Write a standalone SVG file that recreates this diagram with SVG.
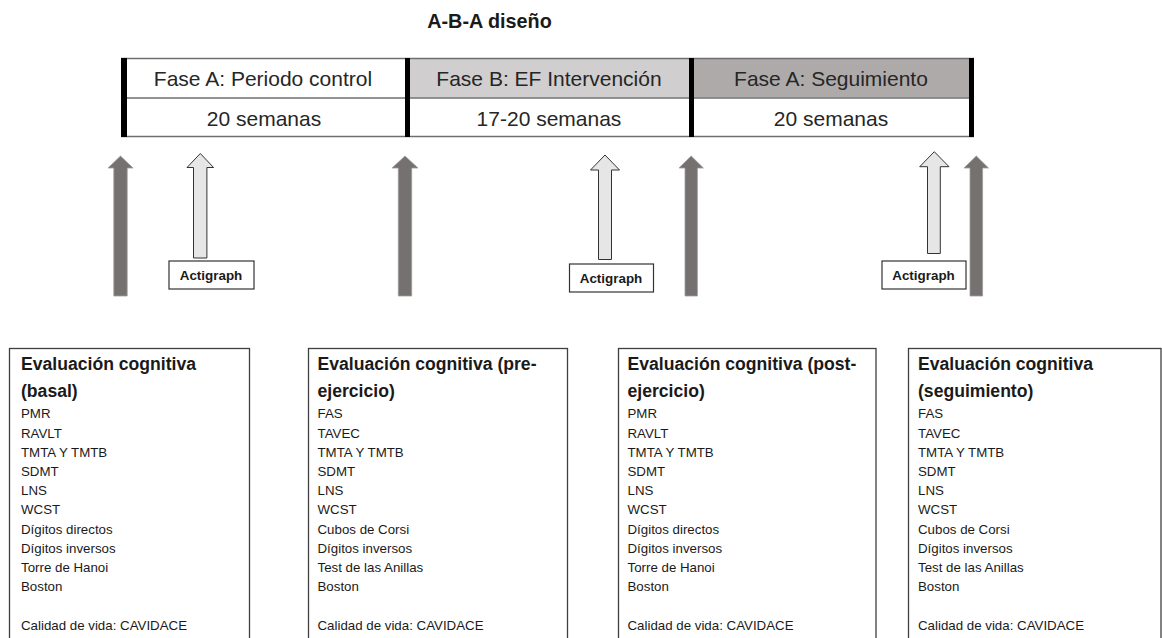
<svg xmlns="http://www.w3.org/2000/svg" width="1162" height="638" viewBox="0 0 1162 638">
<defs>
<style>
text{font-family:"Liberation Sans",Arial,sans-serif;fill:#1a1a1a}
.title{font-size:19.8px;font-weight:bold}
.cell{font-size:21px;text-anchor:middle;fill:#262626}
.hline{stroke:#6f6f6f;stroke-width:1.6}
.bar{fill:#000}
.dark{fill:#767171;stroke:#a09c9c;stroke-width:0.8}
.light{fill:#e7e6e6;stroke:#333;stroke-width:1}
.actbox{fill:#fff;stroke:#333;stroke-width:1.2}
.act{font-size:13.4px;font-weight:bold;text-anchor:middle}
.box{fill:#fff;stroke:#3f3f3f;stroke-width:1.3}
.head{font-size:17.6px;font-weight:bold}
.item{font-size:13.3px}
</style>
</defs>
<rect width="1162" height="638" fill="#fff"/>
<text class="title" x="489.5" y="28" text-anchor="middle">A-B-A diseño</text>

<g id="table">
  <rect x="406" y="58.5" width="285" height="39" fill="#d0cece"/>
  <rect x="692" y="58.5" width="280" height="39" fill="#aeaaaa"/>
  <line class="hline" x1="121" y1="58.5" x2="974" y2="58.5"/>
  <line class="hline" x1="121" y1="98" x2="974" y2="98" stroke-width="2.2"/>
  <line class="hline" x1="121" y1="136.5" x2="974" y2="136.5"/>
  <rect class="bar" x="121" y="58" width="6" height="79"/>
  <rect class="bar" x="405" y="58" width="5" height="79"/>
  <rect class="bar" x="689" y="58" width="5" height="79"/>
  <rect class="bar" x="969" y="58" width="5" height="79"/>
  <text class="cell" x="263" y="86">Fase A: Periodo control</text>
  <text class="cell" x="264" y="126">20 semanas</text>
  <text class="cell" x="549" y="86">Fase B: EF Intervención</text>
  <text class="cell" x="549" y="126">17-20 semanas</text>
  <text class="cell" x="831" y="86">Fase A: Seguimiento</text>
  <text class="cell" x="831" y="126">20 semanas</text>
</g>

<g id="connectors">
  <path class="dark" d="M113.8,296 V168 H108 L120.5,156 L133,168 H127.2 V296 Z"/>
  <path class="dark" d="M398.3,296 V168 H392 L405,156 L418,168 H411.7 V296 Z"/>
  <path class="dark" d="M685,296 V168 H679 L691.2,156 L703.4,168 H697.4 V296 Z"/>
  <path class="dark" d="M970,296 V168 H964 L976.3,156 L988.5,168 H982.6 V296 Z"/>
  <path class="light" d="M193.5,258 V167.5 H187 L200.3,153.5 L213.6,167.5 H206.9 V258 Z"/>
  <path class="light" d="M598.5,259.5 V170 H590.5 L605,155 L619.5,170 H611.5 V259.5 Z"/>
  <path class="light" d="M927.5,253.5 V166.7 H919.7 L934.3,151.7 L949,166.7 H940.3 V253.5 Z"/>
</g>

<g id="actigraph1">
  <rect class="actbox" x="169" y="261" width="85" height="28"/>
  <text class="act" x="211" y="280">Actigraph</text>
</g>
<g id="actigraph2">
  <rect class="actbox" x="569.5" y="264" width="84" height="28"/>
  <text class="act" x="611" y="283">Actigraph</text>
</g>
<g id="actigraph3">
  <rect class="actbox" x="882" y="261" width="84" height="28"/>
  <text class="act" x="923.5" y="280">Actigraph</text>
</g>

<g id="eval-basal">
  <rect class="box" x="9.5" y="348.5" width="240" height="300"/>
  <text class="head" x="21" y="369.5">Evaluación cognitiva</text>
  <text class="head" x="21" y="397">(basal)</text>
  <text class="item" x="21" y="418.3">PMR</text>
  <text class="item" x="21" y="437.5">RAVLT</text>
  <text class="item" x="21" y="456.7">TMTA Y TMTB</text>
  <text class="item" x="21" y="475.9">SDMT</text>
  <text class="item" x="21" y="495.1">LNS</text>
  <text class="item" x="21" y="514.3">WCST</text>
  <text class="item" x="21" y="533.5">Dígitos directos</text>
  <text class="item" x="21" y="552.7">Dígitos inversos</text>
  <text class="item" x="21" y="571.9">Torre de Hanoi</text>
  <text class="item" x="21" y="591.1">Boston</text>
  <text class="item" x="21" y="629.5">Calidad de vida: CAVIDACE</text>
</g>

<g id="eval-pre">
  <rect class="box" x="308.5" y="348.5" width="259" height="300"/>
  <text class="head" x="317.5" y="369.5">Evaluación cognitiva (pre-</text>
  <text class="head" x="317.5" y="397">ejercicio)</text>
  <text class="item" x="317.5" y="418.3">FAS</text>
  <text class="item" x="317.5" y="437.5">TAVEC</text>
  <text class="item" x="317.5" y="456.7">TMTA Y TMTB</text>
  <text class="item" x="317.5" y="475.9">SDMT</text>
  <text class="item" x="317.5" y="495.1">LNS</text>
  <text class="item" x="317.5" y="514.3">WCST</text>
  <text class="item" x="317.5" y="533.5">Cubos de Corsi</text>
  <text class="item" x="317.5" y="552.7">Dígitos inversos</text>
  <text class="item" x="317.5" y="571.9">Test de las Anillas</text>
  <text class="item" x="317.5" y="591.1">Boston</text>
  <text class="item" x="317.5" y="629.5">Calidad de vida: CAVIDACE</text>
</g>

<g id="eval-post">
  <rect class="box" x="618.5" y="348.5" width="257.5" height="300"/>
  <text class="head" x="627.5" y="369.5">Evaluación cognitiva (post-</text>
  <text class="head" x="627.5" y="397">ejercicio)</text>
  <text class="item" x="627.5" y="418.3">PMR</text>
  <text class="item" x="627.5" y="437.5">RAVLT</text>
  <text class="item" x="627.5" y="456.7">TMTA Y TMTB</text>
  <text class="item" x="627.5" y="475.9">SDMT</text>
  <text class="item" x="627.5" y="495.1">LNS</text>
  <text class="item" x="627.5" y="514.3">WCST</text>
  <text class="item" x="627.5" y="533.5">Dígitos directos</text>
  <text class="item" x="627.5" y="552.7">Dígitos inversos</text>
  <text class="item" x="627.5" y="571.9">Torre de Hanoi</text>
  <text class="item" x="627.5" y="591.1">Boston</text>
  <text class="item" x="627.5" y="629.5">Calidad de vida: CAVIDACE</text>
</g>

<g id="eval-seguimiento">
  <rect class="box" x="908.5" y="348.5" width="252.5" height="300"/>
  <text class="head" x="918" y="369.5">Evaluación cognitiva</text>
  <text class="head" x="918" y="397">(seguimiento)</text>
  <text class="item" x="918" y="418.3">FAS</text>
  <text class="item" x="918" y="437.5">TAVEC</text>
  <text class="item" x="918" y="456.7">TMTA Y TMTB</text>
  <text class="item" x="918" y="475.9">SDMT</text>
  <text class="item" x="918" y="495.1">LNS</text>
  <text class="item" x="918" y="514.3">WCST</text>
  <text class="item" x="918" y="533.5">Cubos de Corsi</text>
  <text class="item" x="918" y="552.7">Dígitos inversos</text>
  <text class="item" x="918" y="571.9">Test de las Anillas</text>
  <text class="item" x="918" y="591.1">Boston</text>
  <text class="item" x="918" y="629.5">Calidad de vida: CAVIDACE</text>
</g>
</svg>
